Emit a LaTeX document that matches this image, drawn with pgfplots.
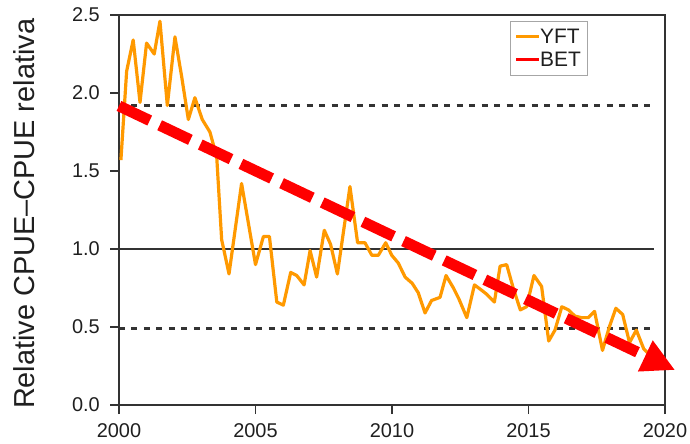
\documentclass[border=0pt]{standalone}
\usepackage{fontspec}
\setmainfont{Liberation Sans}
\usepackage{pgfplots}
\pgfplotsset{compat=1.18}
\usetikzlibrary{arrows.meta}
\definecolor{yft}{HTML}{FF9900}
\definecolor{framec}{HTML}{333333}
\definecolor{betred}{HTML}{FF0000}
\begin{document}
\begin{tikzpicture}
\begin{axis}[
  at={(0,0)}, anchor=south west,
  scale only axis, width=546bp, height=390bp,
  xmin=2000, xmax=2020, ymin=0, ymax=2.5,
  clip=false,
  axis line style={draw=framec, line width=1.8bp},
  xtick={2000,2005,2010,2015,2020},
  xticklabels={2000,2005,2010,2015,2020},
  ytick={0,0.5,1,1.5,2,2.5},
  yticklabels={0.0,0.5,1.0,1.5,2.0,2.5},
  xtick pos=left, ytick pos=left,
  tick align=outside,
  major tick length=9bp,
  every tick/.style={draw=framec, line width=1.8bp},
  tick label style={font=\fontsize{20}{24}\selectfont, inner sep=0pt, text=black!88},
  yticklabel style={xshift=-10bp},
  xticklabel style={yshift=-9bp},
  ylabel={Relative CPUE–CPUE relativa},
  ylabel style={at={(axis description cs:-0.174,0.49)}, anchor=center, font=\fontsize{29}{32}\selectfont, inner sep=0pt, text=black!88},
  legend style={at={(rel axis cs:0.859,0.985)}, anchor=north east,
    draw=gray!70, line width=1.2bp, inner xsep=5bp, inner ysep=6bp,
    font=\fontsize{21}{24}\selectfont, text=black!88,
    nodes={inner sep=1.5bp}, row sep=4bp},
  legend cell align=left,
]
% reference lines
\addplot[forget plot, framec, line width=2.4bp, dash pattern=on 6bp off 6.5bp] coordinates {(2000,1.92) (2019.6,1.92)};
\addplot[forget plot, framec, line width=2.4bp, dash pattern=on 6bp off 6.5bp] coordinates {(2000,0.49) (2019.6,0.49)};
\addplot[forget plot, framec, line width=2.2bp] coordinates {(2000,1.0) (2019.6,1.0)};
% YFT
\addplot[yft, line width=3.2bp, line join=round,
  legend image code/.code={\fill[yft, draw=none] (0bp,-1.6bp) rectangle (23bp,1.6bp);}] table {
x y
2000.07 1.57
2000.28 2.14
2000.52 2.34
2000.77 1.94
2001.01 2.32
2001.29 2.25
2001.50 2.46
2001.77 1.92
2002.05 2.36
2002.30 2.10
2002.54 1.83
2002.78 1.97
2003.05 1.83
2003.33 1.75
2003.58 1.59
2003.76 1.06
2004.03 0.84
2004.49 1.42
2005.00 0.90
2005.29 1.08
2005.51 1.08
2005.78 0.66
2006.02 0.64
2006.29 0.85
2006.51 0.83
2006.78 0.77
2007.00 0.99
2007.24 0.82
2007.52 1.12
2007.75 1.03
2008.00 0.84
2008.46 1.40
2008.74 1.04
2009.01 1.04
2009.26 0.96
2009.50 0.96
2009.77 1.04
2009.99 0.96
2010.23 0.91
2010.48 0.82
2010.74 0.78
2010.96 0.72
2011.21 0.59
2011.45 0.67
2011.76 0.69
2011.98 0.83
2012.25 0.75
2012.45 0.68
2012.74 0.56
2013.02 0.77
2013.25 0.74
2013.47 0.71
2013.75 0.66
2013.96 0.89
2014.20 0.90
2014.44 0.75
2014.70 0.61
2014.93 0.63
2015.20 0.83
2015.48 0.76
2015.74 0.41
2015.97 0.48
2016.22 0.63
2016.46 0.61
2016.70 0.57
2016.94 0.56
2017.19 0.56
2017.42 0.60
2017.71 0.35
2017.96 0.50
2018.20 0.62
2018.45 0.58
2018.70 0.40
2018.95 0.48
2019.22 0.36
2019.45 0.32
};
\addlegendentry{YFT}
% BET trend arrow
\addplot[betred, line width=11bp, dash pattern=on 34bp off 11bp,
  -{Triangle[length=33bp, width=32bp]},
  legend image code/.code={\fill[betred, draw=none] (0bp,-1.6bp) rectangle (23bp,1.6bp);}]
  coordinates {(2000,1.917) (2020.37,0.224)};
\addlegendentry{BET}
\end{axis}
\pgfresetboundingbox
\path (-119bp,-39bp) rectangle (571bp,405bp);
\end{tikzpicture}
\end{document}
